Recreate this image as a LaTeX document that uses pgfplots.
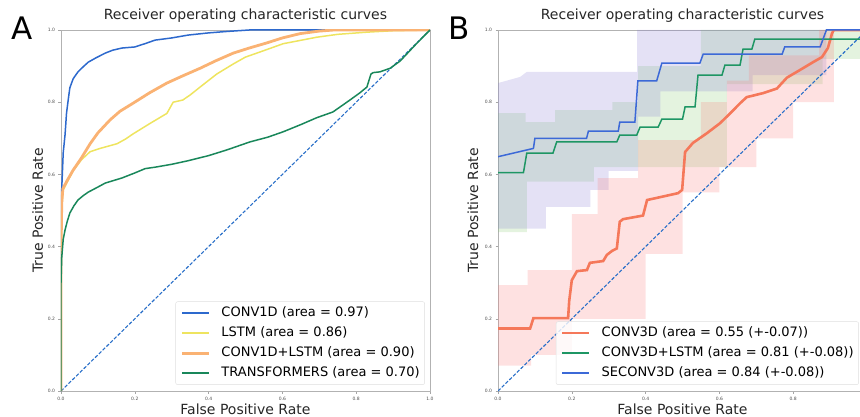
\documentclass[border=0pt]{standalone}
\usepackage{pgfplots}
\pgfplotsset{compat=1.18}
\usepackage{fontspec}
\setmainfont{DejaVu Sans}

\definecolor{cconvid}{RGB}{45,105,205}
\definecolor{clstm}{RGB}{238,228,95}
\definecolor{cconvlstm}{RGB}{250,178,115}
\definecolor{ctrans}{RGB}{25,135,90}
\definecolor{cdiag}{RGB}{40,110,200}
\definecolor{cconv3d}{RGB}{245,120,90}
\definecolor{cconv3dl}{RGB}{30,150,100}
\definecolor{cse}{RGB}{60,105,215}
\definecolor{bpink}{RGB}{250,120,120}
\definecolor{bgreen}{RGB}{130,200,110}
\definecolor{blav}{RGB}{130,120,210}

\pgfplotsset{
  rocaxis/.style={
    scale only axis, width=369pt, height=361pt,
    xmin=0, xmax=1, ymin=0, ymax=1,
    xtick={0,0.2,0.4,0.6,0.8,1}, ytick={0,0.2,0.4,0.6,0.8,1},
    /pgf/number format/.cd, fixed, fixed zerofill, precision=1, assume math mode=true, /pgfplots/.cd,
    tick label style={font=\fontsize{4.5}{5}\selectfont, color=black!70},
    tick align=outside, tick pos=left, major tick length=2.5pt,
    tick style={draw=gray!70, line width=0.4pt},
    axis line style={draw=gray!60, line width=0.5pt},
    title style={at={(axis description cs:0.5,1)}, anchor=base, yshift=4pt,
      font=\fontsize{14}{16}\selectfont, color=black!85},
    xlabel style={at={(axis description cs:0.5,0)}, anchor=base, yshift=-23pt,
      font=\fontsize{14}{16}\selectfont, color=black!85},
    title={Receiver operating characteristic curves},
    xlabel={False Positive Rate},
    ylabel={True Positive Rate},
    legend cell align=left,
    legend image code/.code={\draw[#1] (0pt,0pt) -- (27pt,0pt); \path (38pt,0pt);},
    legend style={font=\fontsize{13}{15}\selectfont, draw=gray!25, rounded corners=2pt,
      fill=white, fill opacity=0.8, text opacity=1, inner xsep=5pt, inner ysep=5pt,
      row sep=7pt, nodes={inner sep=0pt, text height=10pt, text depth=3pt}},
  },
}

\begin{document}
\begin{tikzpicture}

% ---------------- panel A ----------------
\begin{axis}[rocaxis, at={(61pt,25pt)}, anchor=south west,
  ylabel style={at={(axis description cs:-0.049,0.5)}, anchor=base,
    font=\fontsize{14}{16}\selectfont, color=black!85},
  legend style={at={(0.986,0.017)}, anchor=south east}]

\addplot[color=cdiag, line width=1.1pt, dash pattern=on 3.5pt off 1.8pt, forget plot]
  coordinates {(0,0) (1,1)};

% CONV1D
\addplot[color=cconvid, line width=1.5pt] coordinates {
 (0,0) (0,0.42) (0.002,0.56) (0.006,0.66) (0.011,0.71) (0.015,0.77) (0.02,0.81)
 (0.024,0.84) (0.033,0.865) (0.046,0.884) (0.06,0.898) (0.074,0.911) (0.095,0.923)
 (0.12,0.936) (0.14,0.944) (0.165,0.95) (0.2,0.953) (0.23,0.963) (0.255,0.972)
 (0.3,0.978) (0.345,0.986) (0.4,0.992) (0.45,0.996) (0.51,1.0) (1,1)
};
\addlegendentry{CONV1D (area = 0.97)}

% LSTM
\addplot[color=clstm, line width=1.5pt] coordinates {
 (0,0) (0,0.36) (0.002,0.5) (0.005,0.555) (0.015,0.575) (0.033,0.61) (0.055,0.64)
 (0.079,0.663) (0.106,0.672) (0.152,0.685) (0.175,0.698) (0.195,0.712) (0.241,0.741)
 (0.287,0.769) (0.304,0.8) (0.33,0.806) (0.35,0.82) (0.377,0.842) (0.422,0.878)
 (0.467,0.906) (0.5,0.925) (0.539,0.939) (0.602,0.962) (0.693,0.98) (0.75,0.988)
 (0.829,0.994) (0.9,0.998) (1,1)
};
\addlegendentry{LSTM (area = 0.86)}

% CONV1D+LSTM
\addplot[color=cconvlstm, line width=2.8pt] coordinates {
 (0,0) (0,0.38) (0.002,0.52) (0.005,0.56) (0.015,0.58) (0.033,0.612) (0.055,0.645)
 (0.079,0.685) (0.1,0.715) (0.133,0.751) (0.16,0.775) (0.195,0.797) (0.24,0.826)
 (0.287,0.853) (0.33,0.873) (0.377,0.894) (0.42,0.915) (0.467,0.936) (0.51,0.95)
 (0.557,0.964) (0.6,0.978) (0.648,0.99) (0.7,0.997) (0.74,1) (1,1)
};
\addlegendentry{CONV1D+LSTM (area = 0.90)}

% TRANSFORMERS
\addplot[color=ctrans, line width=1.5pt] coordinates {
 (0,0) (0,0.3) (0.002,0.37) (0.006,0.42) (0.011,0.446) (0.017,0.47) (0.024,0.493)
 (0.035,0.513) (0.046,0.529) (0.06,0.541) (0.074,0.551) (0.1,0.565) (0.12,0.576)
 (0.165,0.59) (0.2,0.604) (0.228,0.616) (0.255,0.62) (0.3,0.628) (0.345,0.638)
 (0.4,0.652) (0.45,0.668) (0.512,0.69) (0.56,0.703) (0.602,0.718) (0.65,0.738)
 (0.693,0.757) (0.737,0.773) (0.783,0.806) (0.81,0.826) (0.829,0.842) (0.84,0.878)
 (0.846,0.882) (0.864,0.884) (0.892,0.894) (0.919,0.914) (0.965,0.964) (1,1)
};
\addlegendentry{TRANSFORMERS (area = 0.70)}
\end{axis}

% ---------------- panel B ----------------
\begin{axis}[rocaxis, at={(498pt,25pt)}, anchor=south west,
  xticklabels={0.0,0.2,0.4,0.6,0.8,{}},
  ylabel style={at={(axis description cs:-0.054,0.5)}, anchor=base,
    font=\fontsize{14}{16}\selectfont, color=black!85},
  legend style={at={(0.157,0.017)}, anchor=south west}]

% band CONV3D+LSTM (green): upper edge then lower edge reversed
\addplot[fill=bgreen, fill opacity=0.22, draw=none, forget plot] coordinates {
 (0,0.77) (0.075,0.77) (0.075,0.745) (0.155,0.745) (0.155,0.778) (0.31,0.778)
 (0.31,0.80) (0.38,0.80) (0.38,0.90) (0.55,0.90) (0.55,1) (1,1)
 (1,0.92) (0.88,0.92) (0.88,0.85) (0.62,0.85) (0.62,0.62) (0.26,0.62) (0.26,0.58)
 (0.078,0.58) (0.078,0.44) (0,0.44)
} -- cycle;

% band SECONV3D (lavender)
\addplot[fill=blav, fill opacity=0.22, draw=none, forget plot] coordinates {
 (0,0.853) (0.06,0.87) (0.078,0.884) (0.377,0.884) (0.377,1) (0.89,1)
 (0.89,0.875) (0.69,0.875) (0.69,0.83) (0.44,0.83) (0.44,0.76) (0.38,0.76)
 (0.38,0.61) (0.30,0.61) (0.30,0.557) (0.25,0.557) (0.25,0.51) (0.13,0.51)
 (0.13,0.45) (0,0.45)
} -- cycle;

% band CONV3D (pink)
\addplot[fill=bpink, fill opacity=0.22, draw=none, forget plot] coordinates {
 (0,0.293) (0.08,0.293) (0.08,0.335) (0.2,0.335) (0.2,0.49) (0.27,0.49) (0.27,0.59)
 (0.38,0.59) (0.38,0.695) (0.55,0.695) (0.55,0.8) (0.62,0.8) (0.62,0.86) (0.68,0.86)
 (0.68,0.93) (0.87,0.93) (0.87,1) (0.91,1)
 (0.91,0.8) (0.8,0.8) (0.8,0.7) (0.7,0.7) (0.7,0.62) (0.6,0.62) (0.6,0.55) (0.5,0.55)
 (0.5,0.38) (0.4,0.38) (0.4,0.2) (0.2,0.2) (0.2,0.1) (0.09,0.1) (0.09,0.07) (0,0.07)
} -- cycle;

\addplot[color=cdiag, line width=1.1pt, dash pattern=on 3.5pt off 1.8pt, forget plot]
  coordinates {(0,0) (1,1)};

% CONV3D
\addplot[color=cconv3d, line width=2.6pt] coordinates {
 (0,0.173) (0.087,0.173) (0.096,0.202) (0.19,0.202) (0.193,0.25) (0.2,0.307)
 (0.214,0.332) (0.241,0.335) (0.249,0.355) (0.285,0.36) (0.295,0.377) (0.309,0.388)
 (0.322,0.395) (0.33,0.469) (0.339,0.476) (0.393,0.486) (0.404,0.529) (0.488,0.548)
 (0.499,0.557) (0.507,0.662) (0.528,0.687) (0.566,0.714) (0.602,0.742) (0.629,0.769)
 (0.656,0.797) (0.674,0.814) (0.718,0.825) (0.756,0.838) (0.783,0.868) (0.818,0.889)
 (0.854,0.911) (0.878,0.925) (0.894,0.95) (0.905,0.99) (0.91,1) (1,1)
};
\addlegendentry{CONV3D (area = 0.55 (+-0.07))}

% CONV3D+LSTM
\addplot[color=cconv3dl, line width=1.5pt] coordinates {
 (0,0.605) (0.069,0.605) (0.078,0.659) (0.149,0.659) (0.159,0.69) (0.322,0.69)
 (0.33,0.709) (0.376,0.709) (0.385,0.731) (0.434,0.731) (0.444,0.753) (0.5,0.753)
 (0.507,0.787) (0.534,0.787) (0.542,0.875) (0.607,0.875) (0.615,0.903) (0.656,0.903)
 (0.664,0.947) (0.688,0.947) (0.696,0.975) (1,0.975)
};
\addlegendentry{CONV3D+LSTM (area = 0.81 (+-0.08))}

% SECONV3D
\addplot[color=cse, line width=1.5pt] coordinates {
 (0,0.649) (0.096,0.672) (0.10,0.70) (0.24,0.70) (0.245,0.72) (0.326,0.72)
 (0.33,0.745) (0.371,0.745) (0.379,0.859) (0.43,0.859) (0.444,0.908) (0.547,0.908)
 (0.556,0.933) (0.77,0.933) (0.777,0.953) (0.873,0.953) (0.89,1) (1,1)
};
\addlegendentry{SECONV3D (area = 0.84 (+-0.08))}
\end{axis}

\node[anchor=base, font=\fontsize{31}{31}\selectfont] at (22pt,376pt) {A};
\node[anchor=base, font=\fontsize{31}{31}\selectfont] at (459pt,376pt) {B};

\pgfresetboundingbox
\useasboundingbox (0pt,0pt) rectangle (860pt,416pt);
\end{tikzpicture}
\end{document}
